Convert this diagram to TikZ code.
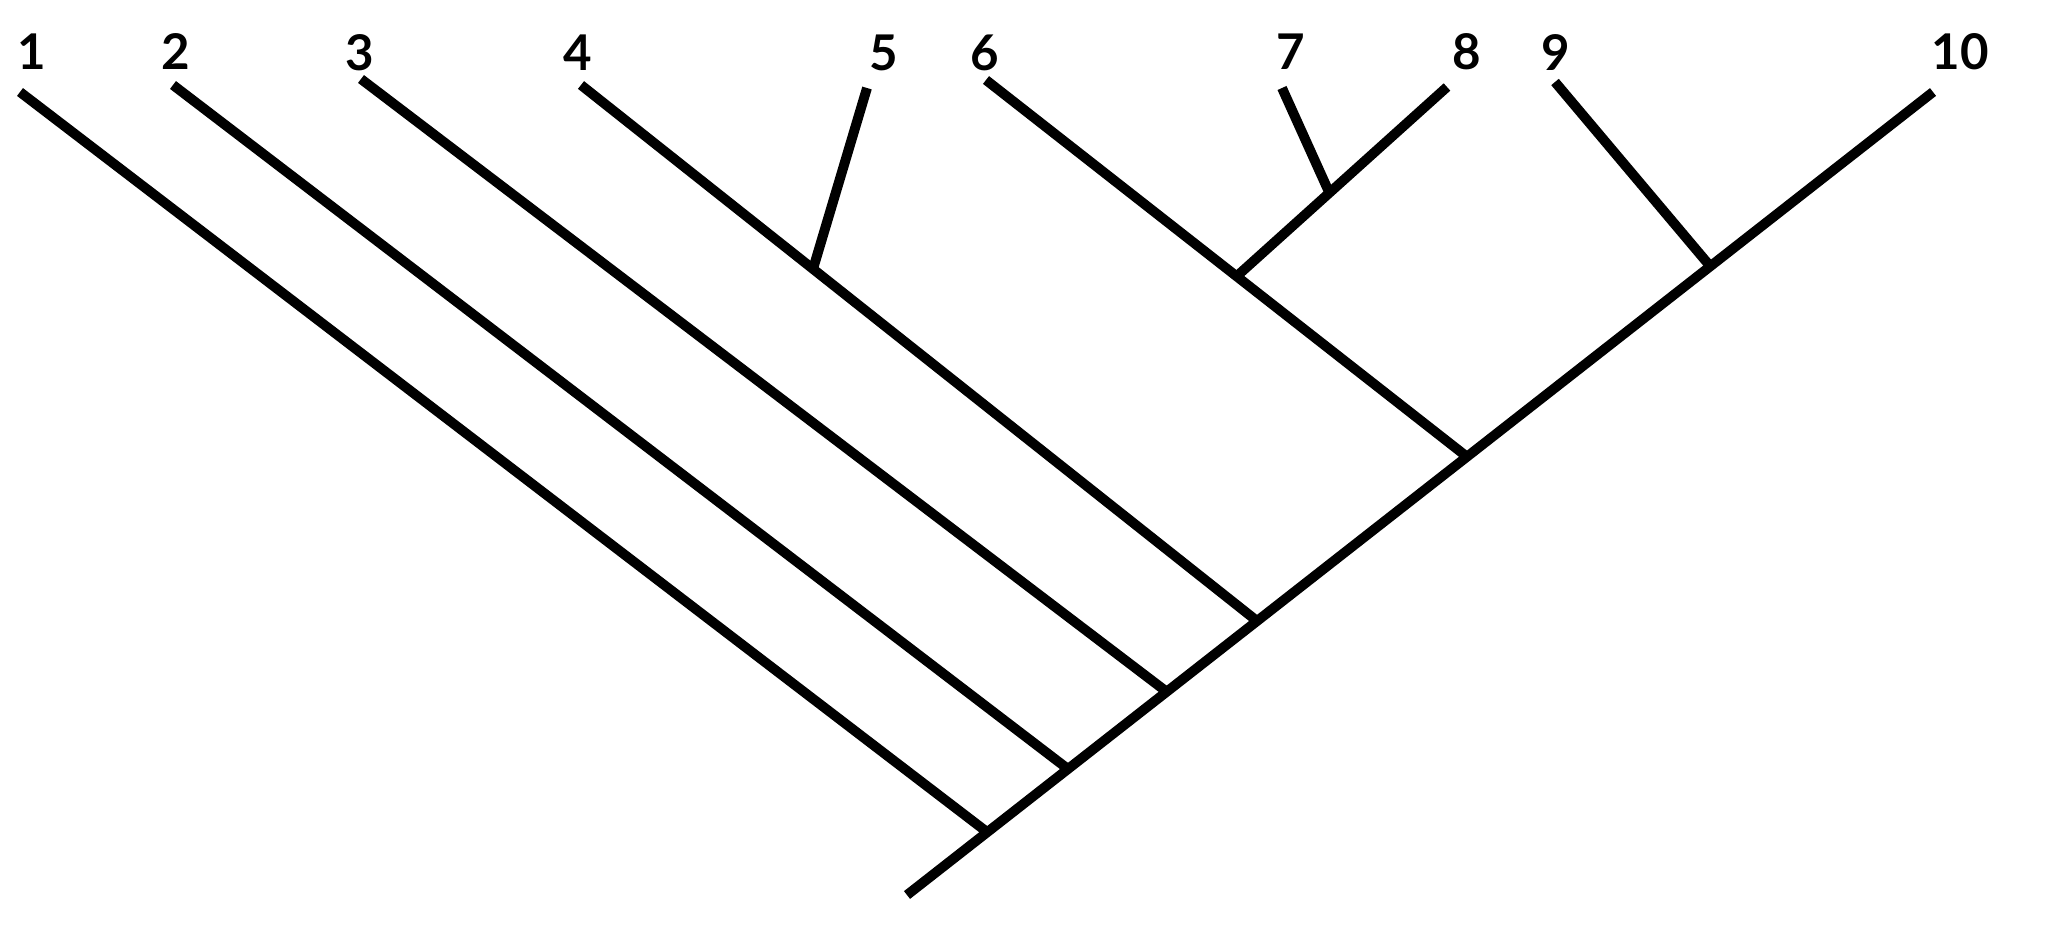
\documentclass[tikz,border=0pt]{standalone}
\usepackage{fontspec}
\setmainfont{Lato}

\tikzstyle{branch} = [draw,line width=2.8pt,-]
\tikzstyle{taxon} = [font=\fontsize{14}{17}\selectfont\bfseries]
\newcommand{\treescale}{0.01}

\begin{document}
\begin{tikzpicture}[x=\treescale cm, y=-\treescale cm]
    \useasboundingbox (0,0) rectangle (2045,927);
    % First we place the tips and the branch points
    \coordinate (t1) at (20,92);
    \coordinate (t2) at (173,85);
    \coordinate (t3) at (361,79);
    \coordinate (t4) at (581,85);
    \coordinate (t5) at (867,88);
    \coordinate (t6) at (986,80);
    \coordinate (t7) at (1282,88);
    \coordinate (t8) at (1447,87);
    \coordinate (t9) at (1555,82);
    \coordinate (t10) at (1933,92);
    \coordinate (root) at (907,895);
    \coordinate (j1) at (987,832);
    \coordinate (j2) at (1068,769);
    \coordinate (j3) at (1167,692);
    \coordinate (j4) at (1257,621);
    \coordinate (j6) at (1466,456);
    \coordinate (j9) at (1710,266);
    \coordinate (j45) at (813,269);
    \coordinate (j68) at (1237,276);
    \coordinate (j78) at (1329,192);
    % Taxon labels above the tips
    \node[taxon] (lab1) at (32,52) {1};
    \node[taxon] (lab2) at (176,52) {2};
    \node[taxon] (lab3) at (360,53) {3};
    \node[taxon] (lab4) at (578,53) {4};
    \node[taxon] (lab5) at (884,53) {5};
    \node[taxon] (lab6) at (985,53) {6};
    \node[taxon] (lab7) at (1291,52) {7};
    \node[taxon] (lab8) at (1467,52) {8};
    \node[taxon] (lab9) at (1556,53) {9};
    \node[taxon] (lab10) at (1960,52) {10};
    % Connect tips with branch points
    \foreach \source/ \dest in {root/t10,t1/j1,t2/j2,t3/j3,t4/j4,t5/j45,t6/j6,t8/j68,t7/j78,t9/j9}
        \path[branch] (\source) -- (\dest);
\end{tikzpicture}
\end{document}
